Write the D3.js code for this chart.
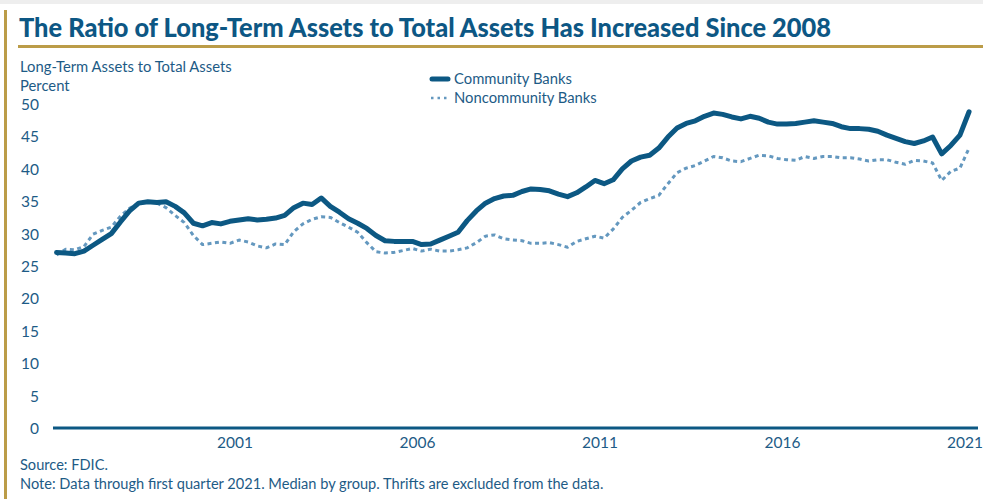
<!DOCTYPE html>
<html>
<head>
<meta charset="utf-8">
<script src="https://cdn.jsdelivr.net/npm/d3@7"></script>
<style>
  html, body { margin: 0; padding: 0; background: #fff; }
  svg { display: block; }
  text { font-family: Lato, "Noto Sans", sans-serif; }
</style>
</head>
<body>
<svg id="chart" width="983" height="499"></svg>
<script>
// Quarterly medians, 1996 Q1 through 2021 Q1 (percent of total assets)
const startYear = 1996;
const community = [
  27.1, 27.0, 26.9, 27.3, 28.2, 29.1, 30.0, 31.8, 33.5, 34.7,
  34.9, 34.8, 34.9, 34.2, 33.2, 31.6, 31.2, 31.7, 31.5, 31.9,
  32.1, 32.3, 32.1, 32.2, 32.4, 32.8, 34.0, 34.7, 34.5, 35.5,
  34.2, 33.3, 32.3, 31.6, 30.8, 29.7, 28.9, 28.8, 28.8, 28.8,
  28.3, 28.4, 29.0, 29.6, 30.2, 32.0, 33.5, 34.7, 35.4, 35.8,
  35.9, 36.5, 36.9, 36.8, 36.6, 36.1, 35.7, 36.3, 37.2, 38.2,
  37.7, 38.3, 40.0, 41.2, 41.8, 42.1, 43.2, 44.9, 46.3, 47.0,
  47.4, 48.1, 48.6, 48.4, 48.0, 47.7, 48.1, 47.8, 47.2, 46.9,
  46.9, 47.0, 47.2, 47.4, 47.2, 47.0, 46.5, 46.2, 46.2, 46.1,
  45.8, 45.2, 44.7, 44.2, 43.9, 44.3, 44.9, 42.3, 43.6, 45.2,
  48.8
];
const noncommunity = [
  26.7, 27.6, 27.5, 28.0, 29.9, 30.5, 31.0, 32.7, 33.9, 34.7,
  35.0, 34.7, 34.0, 32.8, 31.7, 29.7, 28.3, 28.5, 28.7, 28.5,
  29.0, 28.7, 28.1, 27.8, 28.4, 28.3, 30.3, 31.5, 32.2, 32.6,
  32.5, 31.7, 31.0, 30.2, 28.6, 27.2, 27.0, 27.1, 27.4, 27.7,
  27.3, 27.6, 27.3, 27.3, 27.5, 27.8, 28.6, 29.6, 29.8, 29.2,
  29.0, 28.9, 28.5, 28.5, 28.6, 28.3, 27.9, 28.8, 29.2, 29.6,
  29.3, 30.7, 32.5, 33.6, 34.8, 35.4, 35.9, 37.7, 39.4, 40.1,
  40.5, 41.2, 41.9, 41.7, 41.2, 41.1, 41.6, 42.1, 42.0, 41.6,
  41.4, 41.3, 41.9, 41.6, 41.9, 41.9, 41.7, 41.7, 41.5, 41.2,
  41.4, 41.4, 41.0, 40.7, 41.3, 41.2, 40.9, 38.2, 39.6, 40.1,
  43.2
];
const xTickYears = [2001, 2006, 2011, 2016, 2021];
const yTicks = [0, 5, 10, 15, 20, 25, 30, 35, 40, 45, 50];
const seriesNames = ["Community Banks", "Noncommunity Banks"];

const titleText = "The Ratio of Long-Term Assets to Total Assets Has Increased Since 2008";
const axisTitle = ["Long-Term Assets to Total Assets", "Percent"];
const footnotes = ["Source: FDIC.", "Note: Data through first quarter 2021. Median by group. Thrifts are excluded from the data."];

const BLUE = "#0c5883";
const LIGHT = "#6498bf";
const TEXT = "#1d5b86";
const GOLD = "#bb9c48";

const svg = d3.select("#chart");

// Frame: gold rule on the left and under the title
svg.append("rect").attr("x", 0).attr("y", 0).attr("width", 983).attr("height", 4).attr("fill", "#eeeeee");
svg.append("rect").attr("x", 4).attr("y", 10).attr("width", 3).attr("height", 489).attr("fill", GOLD);
svg.append("rect").attr("x", 18).attr("y", 45).attr("width", 965).attr("height", 3).attr("fill", GOLD);

svg.append("text")
  .attr("x", 19).attr("y", 37)
  .attr("font-size", 26).attr("font-weight", 900)
  .attr("fill", "#0d5784")
  .attr("textLength", 812).attr("lengthAdjust", "spacingAndGlyphs")
  .text(titleText);

// Scales: each quarter sits at its mid-point within the year
const x = d3.scaleLinear().domain([1996, 2021]).range([52, 964.5]);
const y = d3.scaleLinear().domain([0, 50]).range([428, 104]);
const tq = i => startYear + Math.floor(i / 4) + (i % 4) / 4 + 0.125;

// Axis titles
axisTitle.forEach((t, k) => {
  svg.append("text")
    .attr("x", 20).attr("y", 72 + k * 19)
    .attr("font-size", 14.8).attr("fill", TEXT)
    .text(t);
});

// Y axis labels
const yAxis = d3.axisLeft(y).tickValues(yTicks).tickSize(0).tickPadding(0);
const gy = svg.append("g").attr("transform", "translate(39,0)").call(yAxis);
gy.select(".domain").remove();
gy.selectAll("text")
  .attr("font-family", "Lato, sans-serif")
  .attr("font-size", 15.5).attr("fill", TEXT)
  .attr("dy", "0.36em");

// X axis labels
const xAxis = d3.axisBottom(x).tickValues(xTickYears).tickFormat(d3.format("d")).tickSize(0).tickPadding(0);
const gx = svg.append("g").attr("transform", "translate(0,437)").call(xAxis);
gx.select(".domain").remove();
gx.selectAll("text")
  .attr("font-family", "Lato, sans-serif")
  .attr("font-size", 15.5).attr("fill", TEXT)
  .attr("dy", "0.72em");

// Baseline at zero
svg.append("line")
  .attr("x1", 53).attr("x2", 978)
  .attr("y1", y(0)).attr("y2", y(0))
  .attr("stroke", BLUE).attr("stroke-width", 3);

const line = d3.line().x((d, i) => x(tq(i))).y(d => y(d));

svg.append("path")
  .datum(noncommunity)
  .attr("d", line)
  .attr("fill", "none")
  .attr("stroke", LIGHT)
  .attr("stroke-width", 3)
  .attr("stroke-dasharray", "4,3.5")
  .attr("stroke-linejoin", "round");

svg.append("path")
  .datum(community)
  .attr("d", line)
  .attr("fill", "none")
  .attr("stroke", BLUE)
  .attr("stroke-width", 5)
  .attr("stroke-linejoin", "round")
  .attr("stroke-linecap", "round");

// Legend
const lg = svg.append("g").attr("transform", "translate(431,0)");
lg.append("line").attr("x1", 1).attr("x2", 17).attr("y1", 79).attr("y2", 79)
  .attr("stroke", BLUE).attr("stroke-width", 5).attr("stroke-linecap", "round");
lg.append("line").attr("x1", 0).attr("x2", 18).attr("y1", 98).attr("y2", 98)
  .attr("stroke", LIGHT).attr("stroke-width", 2.5).attr("stroke-dasharray", "2.5,4");
seriesNames.forEach((n, k) => {
  lg.append("text")
    .attr("x", 23).attr("y", 84 + k * 19)
    .attr("font-size", 14.8).attr("fill", TEXT)
    .text(n);
});

// Footnotes
footnotes.forEach((t, k) => {
  svg.append("text")
    .attr("x", 20).attr("y", 470 + k * 19)
    .attr("font-size", 14.6).attr("fill", TEXT)
    .text(t);
});
</script>
</body>
</html>
